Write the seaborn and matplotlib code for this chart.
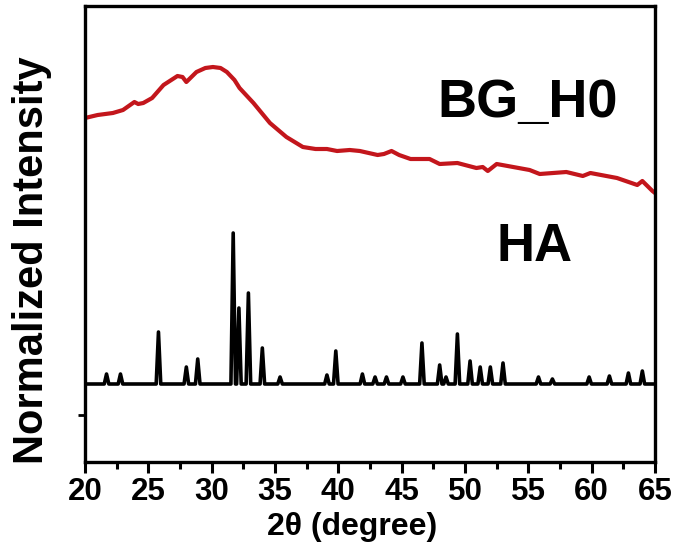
import matplotlib
matplotlib.use('Agg')
import matplotlib.pyplot as plt
import seaborn as sns
import pandas as pd
from matplotlib.ticker import MultipleLocator

# ---------------- data ----------------
# BG_H0 (amorphous glass) trace: 2theta, intensity (arb. units)
bg_2theta = [20.0, 21.0, 22.2, 23.0, 23.9, 24.2, 24.6, 25.3, 26.2, 27.3, 27.7, 28.0,
             28.8, 29.5, 30.1, 30.7, 31.2, 31.8, 32.2, 33.3, 34.6, 35.9, 37.2, 38.2,
             39.1, 39.9, 40.9, 41.7, 43.1, 43.6, 44.2, 44.8, 45.7, 47.2, 48.0, 49.4,
             50.9, 51.4, 51.8, 52.5, 55.1, 55.9, 58.0, 59.3, 59.9, 62.0, 63.6, 64.0,
             64.8, 65.0]
bg_int = [344, 347, 349, 352, 360, 358, 359, 364, 377, 386, 385, 380,
          390, 394, 395, 394, 390, 382, 374, 359, 339, 325, 315, 313,
          313, 311, 312, 311, 307, 308, 311, 307, 303, 303, 298, 299,
          294, 295, 291, 298, 292, 288, 290, 286, 289, 284, 277, 281,
          271, 269]

# HA (crystalline hydroxyapatite) reflections: position and apex intensity
ha_peak_pos = [21.7, 22.8, 25.8, 28.0, 28.9, 31.7, 32.15, 32.9, 34.0, 35.4,
               39.1, 39.8, 41.9, 42.9, 43.8, 45.1, 46.6, 48.0, 48.5, 49.4,
               50.4, 51.2, 52.0, 53.0, 55.8, 56.9, 59.8, 61.4, 62.9, 64.0]
ha_peak_int = [88, 88, 130, 95, 103, 229, 154, 169, 114, 85,
               87, 111, 88, 85, 85, 85, 119, 97, 85, 128,
               101, 95, 95, 99, 85, 83, 85, 86, 89, 91]
ha_baseline = 78
ha_range = [20.0, 65.0]

x_ticks = [20, 25, 30, 35, 40, 45, 50, 55, 60, 65]

# build HA polyline from the reflection list
half_w = 0.18
ha_x, ha_y = [ha_range[0]], [ha_baseline]
for p, h in zip(ha_peak_pos, ha_peak_int):
    ha_x += [p - half_w, p, p + half_w]
    ha_y += [ha_baseline, h, ha_baseline]
ha_x.append(ha_range[1]); ha_y.append(ha_baseline)

df_bg = pd.DataFrame({'2theta': bg_2theta, 'I': bg_int})
df_ha = pd.DataFrame({'2theta': ha_x, 'I': ha_y})

# ---------------- plot ----------------
sns.set_theme(style='white')
plt.rcParams['font.family'] = ['Liberation Sans', 'DejaVu Sans']
plt.rcParams['font.weight'] = 'bold'
plt.rcParams['text.color'] = 'black'
plt.rcParams['axes.labelcolor'] = 'black'
plt.rcParams['xtick.color'] = 'black'
plt.rcParams['ytick.color'] = 'black'

fig = plt.figure(figsize=(6.75, 5.51), dpi=100)
ax = fig.add_axes([85/675, (551-462)/551, (655-85)/675, (462-6)/551])

sns.lineplot(data=df_bg, x='2theta', y='I', ax=ax, color='#C3161C', lw=3.0, sort=False)
sns.lineplot(data=df_ha, x='2theta', y='I', ax=ax, color='black', lw=2.6, sort=False)

ax.set_xlim(20, 65)
ax.set_ylim(0, 456)
ax.set_xticks(x_ticks)
ax.set_xticklabels([str(t) for t in x_ticks], fontsize=22.5, fontweight='bold')
ax.xaxis.set_minor_locator(MultipleLocator(2.5))
ax.set_yticks([47])
ax.set_yticklabels([''])
ax.tick_params(axis='x', which='major', direction='out', length=8, width=2.2, bottom=True, pad=3)
ax.tick_params(axis='x', which='minor', direction='out', length=5, width=2.2, bottom=True)
ax.tick_params(axis='y', which='major', direction='out', length=5, width=2, left=True)

for s in ax.spines.values():
    s.set_linewidth(2.4)
    s.set_color('black')

ax.set_xlabel('2θ (degree)', fontsize=23, fontweight='bold')
ax.xaxis.set_label_coords(0.468, -0.11)
ax.set_ylabel('Normalized Intensity', fontsize=30, fontweight='bold')
ax.yaxis.set_label_coords(-0.058, 0.443)

ax.text(528, 551 - 103, 'BG_H0', transform=None, fontsize=39, fontweight='bold',
        ha='center', va='center')
ax.text(535, 551 - 247, 'HA', transform=None, fontsize=38, fontweight='bold',
        ha='center', va='center')

fig.savefig('out.png', dpi=100)
